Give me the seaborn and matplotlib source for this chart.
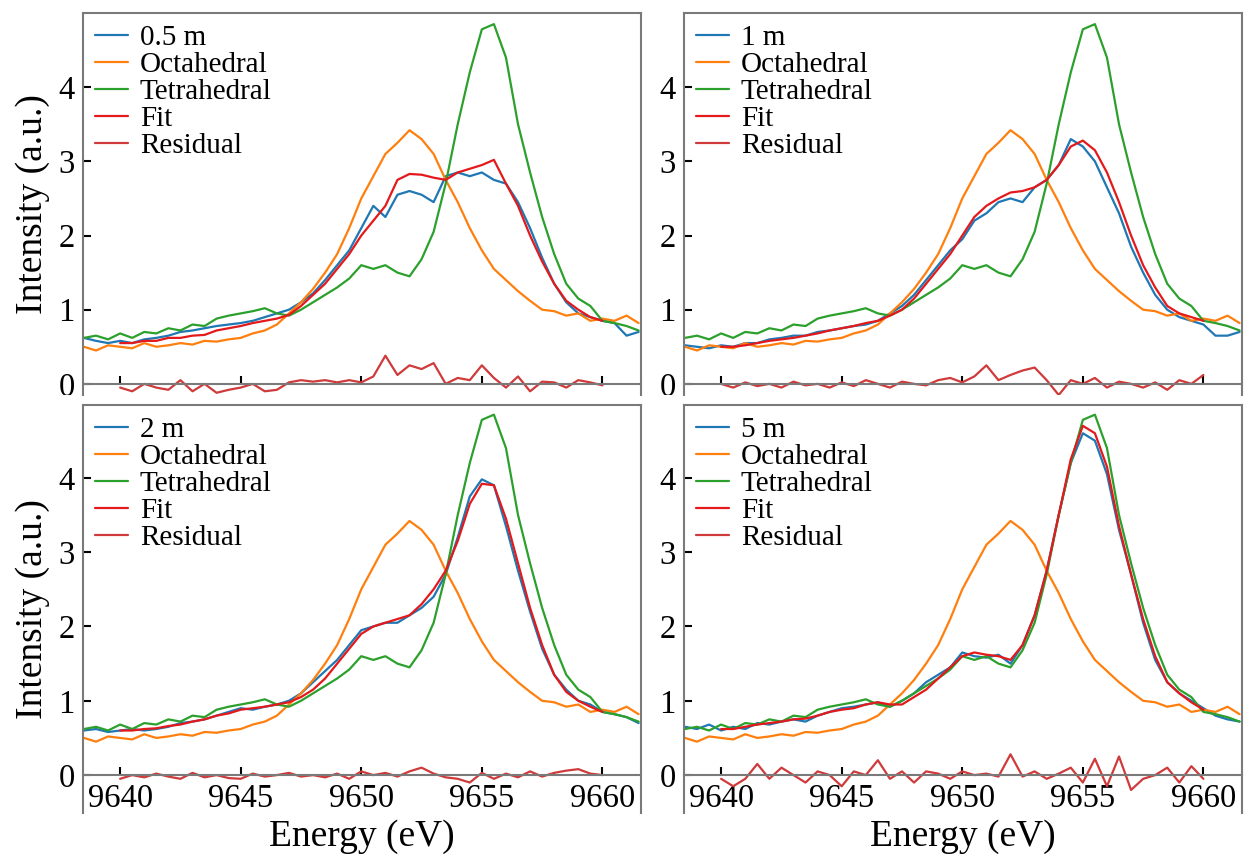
import numpy as np
import pandas as pd
import matplotlib
matplotlib.use("Agg")
import matplotlib.pyplot as plt
from matplotlib.transforms import Bbox, TransformedBbox
import seaborn as sns

# energy grids (eV)
energy = np.arange(9638.5, 9661.6, 0.5)
energy_fit = np.arange(9640.0, 9660.1, 0.5)

# reference spectra (same in every panel)
octahedral = [0.50, 0.45, 0.52, 0.50, 0.48, 0.55, 0.50, 0.52, 0.55, 0.53, 0.58, 0.57,
              0.60, 0.62, 0.68, 0.72, 0.80, 0.95, 1.10, 1.28, 1.50, 1.75, 2.10, 2.50,
              2.80, 3.10, 3.25, 3.42, 3.30, 3.10, 2.75, 2.45, 2.10, 1.80, 1.55, 1.40,
              1.25, 1.12, 1.00, 0.98, 0.92, 0.95, 0.85, 0.88, 0.85, 0.92, 0.82]
tetrahedral = [0.62, 0.65, 0.60, 0.68, 0.62, 0.70, 0.68, 0.75, 0.72, 0.80, 0.78, 0.88,
               0.92, 0.95, 0.98, 1.02, 0.95, 0.92, 1.00, 1.10, 1.20, 1.30, 1.42, 1.60,
               1.55, 1.60, 1.50, 1.45, 1.68, 2.05, 2.70, 3.50, 4.20, 4.78, 4.85, 4.40,
               3.50, 2.85, 2.25, 1.75, 1.35, 1.15, 1.05, 0.85, 0.82, 0.78, 0.72]

# samples
samples = ["0.5 m", "1 m", "2 m", "5 m"]
data_05 = [0.62, 0.58, 0.55, 0.58, 0.55, 0.60, 0.62, 0.65, 0.70, 0.72, 0.75, 0.78,
           0.80, 0.82, 0.85, 0.90, 0.95, 1.00, 1.10, 1.22, 1.40, 1.60, 1.80, 2.10,
           2.40, 2.25, 2.55, 2.60, 2.55, 2.45, 2.80, 2.85, 2.80, 2.85, 2.75, 2.70,
           2.45, 2.10, 1.70, 1.35, 1.10, 0.95, 0.90, 0.85, 0.82, 0.65, 0.70]
data_1 = [0.52, 0.50, 0.48, 0.52, 0.50, 0.55, 0.55, 0.60, 0.62, 0.65, 0.65, 0.70,
          0.72, 0.75, 0.78, 0.80, 0.85, 0.95, 1.05, 1.20, 1.40, 1.60, 1.80, 1.95,
          2.20, 2.30, 2.45, 2.50, 2.45, 2.65, 2.75, 2.95, 3.30, 3.20, 3.00, 2.65,
          2.30, 1.85, 1.50, 1.20, 1.00, 0.90, 0.85, 0.80, 0.65, 0.65, 0.70]
data_2 = [0.60, 0.62, 0.58, 0.60, 0.62, 0.60, 0.62, 0.65, 0.70, 0.72, 0.75, 0.80,
          0.85, 0.90, 0.88, 0.92, 0.95, 1.00, 1.10, 1.25, 1.40, 1.55, 1.75, 1.95,
          2.00, 2.05, 2.05, 2.15, 2.25, 2.40, 2.70, 3.20, 3.75, 3.98, 3.90, 3.35,
          2.75, 2.20, 1.70, 1.35, 1.15, 1.00, 0.95, 0.85, 0.82, 0.78, 0.70]
data_5 = [0.65, 0.62, 0.68, 0.60, 0.65, 0.62, 0.70, 0.68, 0.72, 0.75, 0.72, 0.80,
          0.85, 0.90, 0.92, 0.95, 0.98, 0.92, 1.00, 1.10, 1.25, 1.35, 1.45, 1.65,
          1.60, 1.58, 1.62, 1.50, 1.75, 2.15, 2.75, 3.50, 4.20, 4.60, 4.50, 4.05,
          3.30, 2.70, 2.05, 1.55, 1.25, 1.10, 1.00, 0.90, 0.80, 0.75, 0.72]

fit_05 = [0.55, 0.55, 0.58, 0.58, 0.62, 0.62, 0.65, 0.66, 0.72, 0.75, 0.78, 0.82,
          0.85, 0.88, 0.93, 1.05, 1.20, 1.35, 1.55, 1.75, 2.00, 2.20, 2.40, 2.75,
          2.83, 2.82, 2.78, 2.75, 2.85, 2.90, 2.95, 3.02, 2.70, 2.40, 2.00, 1.65,
          1.35, 1.12, 1.00, 0.90, 0.85]
fit_1 = [0.50, 0.50, 0.52, 0.55, 0.58, 0.60, 0.62, 0.65, 0.68, 0.72, 0.75, 0.78,
         0.82, 0.85, 0.92, 1.00, 1.15, 1.35, 1.55, 1.75, 2.00, 2.25, 2.40, 2.50,
         2.58, 2.60, 2.65, 2.75, 2.95, 3.20, 3.28, 3.15, 2.85, 2.45, 2.00, 1.60,
         1.30, 1.05, 0.95, 0.90, 0.85]
fit_2 = [0.60, 0.60, 0.62, 0.63, 0.66, 0.68, 0.72, 0.75, 0.80, 0.83, 0.88, 0.90,
         0.92, 0.95, 0.98, 1.05, 1.15, 1.30, 1.50, 1.70, 1.90, 2.00, 2.05, 2.10,
         2.15, 2.30, 2.50, 2.75, 3.15, 3.65, 3.92, 3.90, 3.45, 2.85, 2.25, 1.75,
         1.35, 1.12, 1.00, 0.92, 0.85]
fit_5 = [0.62, 0.62, 0.65, 0.68, 0.70, 0.72, 0.75, 0.76, 0.80, 0.85, 0.88, 0.90,
         0.95, 0.98, 0.95, 0.95, 1.05, 1.15, 1.30, 1.45, 1.60, 1.65, 1.62, 1.60,
         1.55, 1.75, 2.15, 2.75, 3.50, 4.25, 4.70, 4.60, 4.15, 3.35, 2.70, 2.10,
         1.60, 1.25, 1.10, 0.98, 0.88]

resid_05 = [-0.05, -0.10, 0.00, -0.05, -0.08, 0.05, -0.10, 0.00, -0.12, -0.08, -0.05,
            0.00, -0.10, -0.08, 0.02, 0.05, 0.03, 0.05, 0.02, 0.05, 0.02, 0.10, 0.38,
            0.12, 0.25, 0.20, 0.28, 0.00, 0.08, 0.05, 0.25, 0.08, -0.05, 0.10, -0.10,
            0.03, 0.02, -0.05, 0.05, 0.02, -0.02]
resid_1 = [0.00, -0.05, 0.02, -0.03, 0.00, -0.05, 0.03, -0.02, 0.00, -0.05, 0.02,
           -0.03, 0.05, 0.00, -0.05, 0.03, 0.00, -0.02, 0.05, 0.08, 0.02, 0.10, 0.25,
           0.05, 0.12, 0.18, 0.22, 0.05, -0.15, 0.05, 0.00, 0.08, -0.05, 0.03, 0.00,
           -0.05, 0.02, -0.08, 0.05, 0.00, 0.12]
resid_2 = [-0.05, 0.00, -0.03, 0.02, -0.02, -0.05, 0.03, -0.03, 0.00, -0.04, -0.05,
           0.02, -0.02, 0.00, 0.03, -0.02, 0.00, -0.03, 0.02, -0.05, 0.05, 0.00, 0.03,
           -0.02, 0.05, 0.10, 0.02, -0.03, -0.05, -0.10, 0.03, -0.05, 0.02, -0.03,
           0.05, -0.02, 0.03, 0.06, 0.08, 0.02, 0.00]
resid_5 = [-0.05, -0.15, -0.05, 0.15, -0.05, 0.10, 0.00, -0.10, 0.05, 0.00, -0.15,
           0.05, 0.00, 0.20, -0.05, 0.05, -0.10, 0.05, 0.02, -0.05, 0.05, 0.00, 0.02,
           -0.02, 0.28, -0.02, 0.05, -0.05, 0.02, 0.10, -0.10, 0.22, -0.15, 0.25,
           -0.20, -0.05, 0.00, 0.10, -0.10, 0.12, -0.05]

sample_data = [data_05, data_1, data_2, data_5]
fit_data = [fit_05, fit_1, fit_2, fit_5]
resid_data = [resid_05, resid_1, resid_2, resid_5]

sns.set_style("ticks")
plt.rcParams["font.family"] = ["Liberation Serif", "DejaVu Serif"]
plt.rcParams["text.color"] = "black"
plt.rcParams["axes.labelcolor"] = "black"
plt.rcParams["xtick.color"] = "black"
plt.rcParams["ytick.color"] = "black"

W, H = 1246, 861
fig = plt.figure(figsize=(W / 100, H / 100), dpi=100)

# panel boxes in pixels: (left, top, right, bottom)
boxes = [(83, 13, 641, 395), (684, 13, 1242, 395),
         (83, 405, 641, 813), (684, 405, 1242, 813)]
ylims = [(-0.15, 5.0), (-0.15, 5.0), (-0.51, 4.98), (-0.51, 4.98)]

frame = "#7a7a7a"
c_fit = "#e3191c"
c_res = "#cf3a3b"

for i, (l, t, r, b) in enumerate(boxes):
    ax = fig.add_axes([l / W, 1 - b / H, (r - l) / W, (b - t) / H])
    lw = 1.6
    sns.lineplot(x=energy, y=sample_data[i], ax=ax, color="#1f77b4", lw=lw, label=samples[i])
    sns.lineplot(x=energy, y=octahedral, ax=ax, color="#ff7f0e", lw=lw, label="Octahedral")
    sns.lineplot(x=energy, y=tetrahedral, ax=ax, color="#2ca02c", lw=lw, label="Tetrahedral")
    sns.lineplot(x=energy_fit, y=fit_data[i], ax=ax, color=c_fit, lw=lw, label="Fit")
    sns.lineplot(x=energy_fit, y=resid_data[i], ax=ax, color=c_res, lw=lw, label="Residual")

    ax.set_xlim(9638.46, 9661.6)
    ax.set_ylim(*ylims[i])
    ax.set_xticks([9640, 9645, 9650, 9655, 9660])
    ax.set_yticks([0, 1, 2, 3, 4])
    ax.spines["bottom"].set_position(("data", 0))
    for s in ax.spines.values():
        s.set_color(frame)
        s.set_linewidth(1.5)
    ax.tick_params(direction="in", length=6, width=1.5, color="black",
                   labelsize=23.5, pad=6)
    if i < 2:
        ax.tick_params(axis="x", labelbottom=False)
        # top row: the tick labels are cut at the panel's lower edge
        clip = TransformedBbox(Bbox([[0, 1 - b / H], [1, 1]]), fig.transFigure)
        for lab in ax.get_yticklabels():
            lab.set_clip_box(clip)
            lab.set_clip_on(True)
    else:
        ax.set_xlabel("Energy (eV)", fontsize=27, labelpad=4)
    if i % 2 == 0:
        ax.set_ylabel("Intensity (a.u.)", fontsize=27, labelpad=6)
    else:
        ax.set_ylabel("")

    ax.legend(loc="upper left", frameon=False, fontsize=21, handlelength=1.15,
              handletextpad=0.4, labelspacing=0.02, borderaxespad=0.15,
              borderpad=0.25)

fig.savefig("out.png", dpi=100)
